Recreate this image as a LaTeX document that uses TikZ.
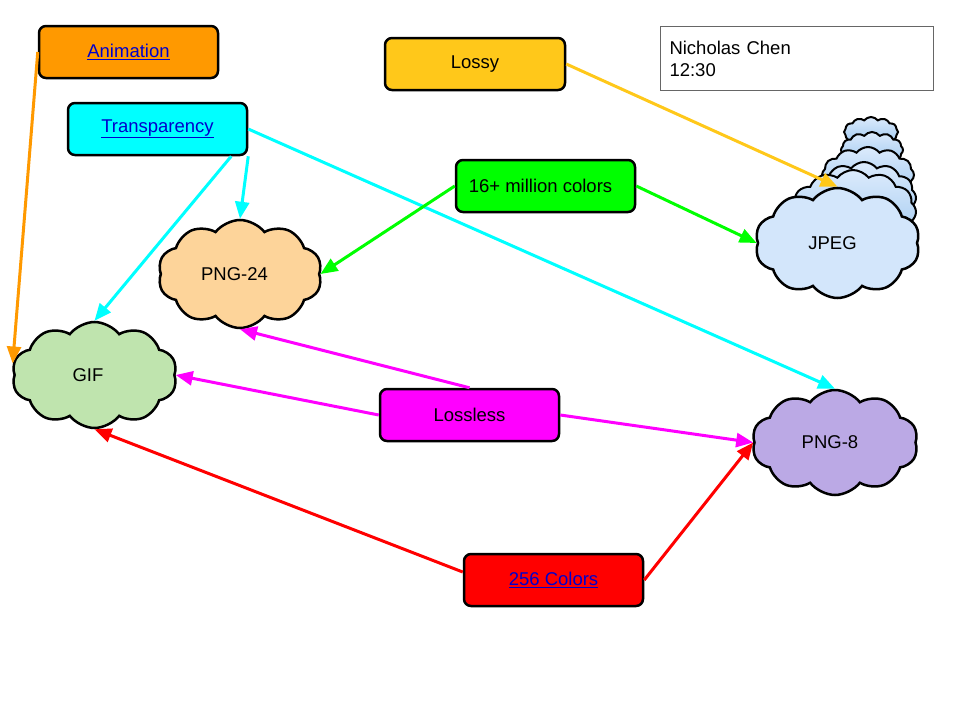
\documentclass[tikz,border=0pt]{standalone}
\usepackage{fontspec}
\setmainfont{Liberation Sans}
\usetikzlibrary{shapes.symbols,arrows.meta}
\definecolor{cOrange}{HTML}{FF9900}
\definecolor{cCyan}{HTML}{00FFFF}
\definecolor{cGold}{HTML}{FFC81A}
\definecolor{cGreen}{HTML}{00FF00}
\definecolor{cMagenta}{HTML}{FF00FF}
\definecolor{cRed}{HTML}{FF0000}
\definecolor{linkblue}{HTML}{0000CC}
\definecolor{fPng24}{HTML}{FDD49A}
\definecolor{fGif}{HTML}{BFE4AE}
\definecolor{fPng8}{HTML}{BBA9E5}
\definecolor{fJpeg}{HTML}{D3E6FB}
\definecolor{fJpegTop}{HTML}{DCEBFC}
\definecolor{fJpegBot}{HTML}{98C4EE}
\definecolor{infogray}{HTML}{666666}
\newcommand\lnk[1]{\textcolor{linkblue}{\underline{#1}}}
\begin{document}
\begin{tikzpicture}[x=1pt,y=-1pt,
  every node/.style={font=\fontsize{18.5}{22}\selectfont},
  box/.style={draw=black, line width=2.5pt, rounded corners=7pt,
    minimum width=179pt, minimum height=52pt, inner sep=0pt},
  cloudnode/.style={cloud, cloud puffs=10, cloud puff arc=105, draw=black,
    line width=2.5pt, inner sep=0pt, cloud ignores aspect},
  backcloud/.style={cloudnode, cloud puffs=12, line width=2pt, top color=fJpegTop, bottom color=fJpegBot},
  arr/.style={line width=3pt, -{Triangle[length=17pt,width=14pt]}}]
\useasboundingbox (0,0) rectangle (960,720);

% clouds
\node[cloudnode, fill=fPng24, minimum width=164pt, minimum height=108pt] (png24) at (240,274) {PNG-24\kern11pt};
\node[cloudnode, fill=fGif, minimum width=165pt, minimum height=106pt] (gif) at (94.5,375) {GIF\kern13pt};
\node[backcloud, minimum width=54pt, minimum height=30pt] (j1) at (871,132) {};
\node[backcloud, minimum width=62pt, minimum height=36pt] (j2) at (872,150) {};
\node[backcloud, minimum width=92pt, minimum height=56pt] (j3) at (868,175) {};
\node[backcloud, minimum width=104pt, minimum height=72pt] (j4) at (864,198) {};
\node[backcloud, minimum width=126pt, minimum height=84pt] (j5) at (853,212) {};
\node[cloudnode, fill=fJpeg, minimum width=165pt, minimum height=110pt] (jpeg) at (837.5,243) {JPEG\kern10pt};
\node[cloudnode, fill=fPng8, minimum width=166pt, minimum height=105pt] (png8) at (835,442.5) {PNG-8\kern10pt};

% boxes
\node[box, fill=cOrange] (anim) at (128.5,52) {\lnk{Animation}};
\node[box, fill=cCyan] (trans) at (157.5,129) {\lnk{Transparency}};
\node[box, fill=cGold, minimum width=180pt] (lossy) at (475,64) {Lossy};
\node[box, fill=cGreen] (mil) at (545.5,186) {16+ million colors\kern10pt};
\node[box, fill=cMagenta] (lossless) at (469.5,415) {Lossless};
\node[box, fill=cRed] (c256) at (553.5,580) {\lnk{256 Colors}};
\node[draw=infogray, line width=1pt, anchor=north west, minimum width=273pt,
  minimum height=64pt, inner xsep=9pt, inner ysep=0pt, align=left, text width=255pt]
  (info) at (660,26) {Nicholas Chen\\12:30};

% connectors
\draw[arr, cOrange] (anim.west) -- (gif.172);
\draw[arr, cCyan] (trans.east) -- (png8.north);
\draw[arr, cCyan] (trans.south east) -- (png24.north);
\draw[arr, cCyan] ([xshift=-17pt]trans.south east) -- (gif.north);
\draw[arr, cGold] (lossy.east) -- (jpeg.north);
\draw[arr, cGreen] (mil.west) -- (png24.east);
\draw[arr, cGreen] (mil.east) -- (jpeg.west);
\draw[arr, cMagenta] (lossless.north) -- (png24.south);
\draw[arr, cMagenta] (lossless.west) -- (gif.east);
\draw[arr, cMagenta] (lossless.east) -- (png8.west);
\draw[arr, cRed] ([yshift=8pt]c256.west) -- (gif.south);
\draw[arr, cRed] (c256.east) -- (png8.west);
\end{tikzpicture}
\end{document}
